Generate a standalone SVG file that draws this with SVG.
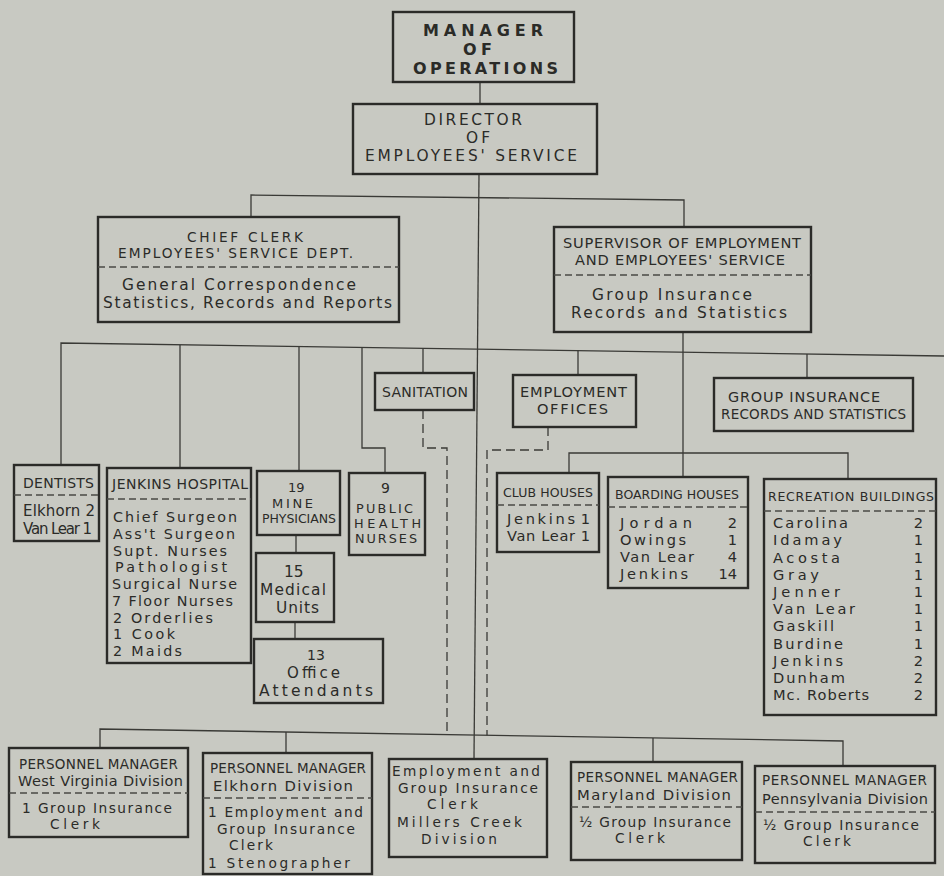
<svg xmlns="http://www.w3.org/2000/svg" width="944" height="876" viewBox="0 0 944 876">
<style>
.bg{fill:#c8c9c2}
.box{fill:#c8c9c2;stroke:#2b2b28;stroke-width:2.4}
.ln{fill:none;stroke:#3a3a36;stroke-width:1.3}
.dl{fill:none;stroke:#3a3a36;stroke-width:1.3;stroke-dasharray:9 5}
.dv{stroke:#4a4a45;stroke-width:1.3;stroke-dasharray:7 4}
text{font-family:"DejaVu Sans","Liberation Sans",Arial,sans-serif;fill:#2b2b28}
.b{font-weight:bold}
.e{text-anchor:end}
</style>
<rect class="bg" x="0" y="0" width="944" height="876"/>
<g id="connectors">
<path class="ln" d="M480,82 V104"/>
<path class="ln" d="M479,174 L474,759"/>
<path class="ln" d="M251,217 V195 L684,200 V227"/>
<path class="ln" d="M61,465 V343 L944,356"/>
<path class="ln" d="M180,345 V468"/>
<path class="ln" d="M299,346.5 V471"/>
<path class="ln" d="M362,347.4 V448 H385 V473"/>
<path class="ln" d="M423,348.3 V373"/>
<path class="ln" d="M578,350.6 V375"/>
<path class="ln" d="M807,354 V378"/>
<path class="ln" d="M683,332 V477"/>
<path class="ln" d="M569,473 V453 H848 V479"/>
<path class="ln" d="M296,535 V553"/>
<path class="ln" d="M295,622 V639"/>
<path class="dl" d="M423,410 V448 H447 V734.6"/>
<path class="dl" d="M548,427 V450 H487 V735.2"/>
<path class="ln" d="M100,748 V729 L843,741 V766"/>
<path class="ln" d="M286,732 V753"/>
<path class="ln" d="M653,738 V762"/>
</g>
<g id="manager">
<rect class="box" x="393" y="12" width="181" height="70"/>
<text class="b" font-size="16"><tspan x="423" y="36" textLength="120">MANAGER</tspan><tspan x="463" y="55" textLength="29">OF</tspan><tspan x="413" y="74" textLength="145">OPERATIONS</tspan></text>
</g>
<g id="director">
<rect class="box" x="353" y="104" width="244" height="70"/>
<text font-size="15.4"><tspan x="424" y="125" textLength="98">DIRECTOR</tspan><tspan x="466" y="143" textLength="24">OF</tspan><tspan x="365" y="161" textLength="212">EMPLOYEES' SERVICE</tspan></text>
</g>
<g id="chief-clerk">
<rect class="box" x="98" y="217" width="301" height="105"/>
<line class="dv" x1="98" y1="267" x2="399" y2="267"/>
<text font-size="13.7"><tspan x="187" y="242" textLength="116">CHIEF CLERK</tspan><tspan x="118" y="258" textLength="235">EMPLOYEES' SERVICE DEPT.</tspan></text>
<text font-size="15.4"><tspan x="122" y="290" textLength="234">General Correspondence</tspan><tspan x="103" y="308" textLength="289">Statistics, Records and Reports</tspan></text>
</g>
<g id="supervisor">
<rect class="box" x="554" y="227" width="257" height="105"/>
<line class="dv" x1="554" y1="275" x2="811" y2="275"/>
<text font-size="14.6"><tspan x="563" y="248" textLength="238">SUPERVISOR OF EMPLOYMENT</tspan><tspan x="575" y="265" textLength="210">AND EMPLOYEES' SERVICE</tspan></text>
<text font-size="15.4"><tspan x="592" y="300" textLength="160">Group Insurance</tspan><tspan x="571" y="318" textLength="216">Records and Statistics</tspan></text>
</g>
<g id="sanitation">
<rect class="box" x="375" y="373" width="99" height="37"/>
<text font-size="14" x="382" y="397" textLength="86">SANITATION</text>
</g>
<g id="employment-offices">
<rect class="box" x="513" y="375" width="123" height="52"/>
<text font-size="14.6"><tspan x="520" y="397" textLength="107">EMPLOYMENT</tspan><tspan x="537" y="414" textLength="71">OFFICES</tspan></text>
</g>
<g id="group-insurance">
<rect class="box" x="714" y="378" width="199" height="53"/>
<text font-size="14.4"><tspan x="728" y="402" textLength="152">GROUP INSURANCE</tspan><tspan x="721" y="419" textLength="185" font-size="13.5">RECORDS AND STATISTICS</tspan></text>
</g>
<g id="dentists">
<rect class="box" x="14" y="465" width="85" height="76"/>
<line class="dv" x1="14" y1="495" x2="99" y2="495"/>
<text font-size="14" x="23" y="488" textLength="71">DENTISTS</text>
<text font-size="15"><tspan x="23" y="516" textLength="72">Elkhorn 2</tspan><tspan x="23" y="534" textLength="69">Van Lear 1</tspan></text>
</g>
<g id="jenkins-hospital">
<rect class="box" x="107" y="468" width="144" height="195"/>
<line class="dv" x1="107" y1="499" x2="251" y2="499"/>
<text font-size="14" x="112" y="489" textLength="136">JENKINS HOSPITAL</text>
<text font-size="14.3"><tspan x="113" y="522" textLength="124">Chief Surgeon</tspan><tspan x="113" y="538.75" textLength="122">Ass't Surgeon</tspan><tspan x="113" y="555.5" textLength="114">Supt. Nurses</tspan><tspan x="115" y="572.25" textLength="112">Pathologist</tspan><tspan x="112" y="589" textLength="125">Surgical Nurse</tspan><tspan x="112" y="605.75" textLength="121">7 Floor Nurses</tspan><tspan x="113" y="622.5" textLength="100">2 Orderlies</tspan><tspan x="113" y="639.25" textLength="62">1 Cook</tspan><tspan x="113" y="656" textLength="69">2 Maids</tspan></text>
</g>
<g id="mine-physicians">
<rect class="box" x="257" y="471" width="83" height="64"/>
<text font-size="13"><tspan x="288" y="492">19</tspan><tspan x="272" y="508" textLength="41">MINE</tspan><tspan x="262" y="523" textLength="74" font-size="12.5">PHYSICIANS</tspan></text>
</g>
<g id="medical-units">
<rect class="box" x="256" y="553" width="78" height="69"/>
<text font-size="15.4"><tspan x="284" y="577">15</tspan><tspan x="260" y="595" textLength="66">Medical</tspan><tspan x="276" y="613" textLength="43">Units</tspan></text>
</g>
<g id="office-attendants">
<rect class="box" x="254" y="639" width="129" height="64"/>
<text font-size="15"><tspan x="307" y="660" font-size="14">13</tspan><tspan x="287" y="678" textLength="53">Office</tspan><tspan x="259" y="696" textLength="114" font-size="15.5">Attendants</tspan></text>
</g>
<g id="public-health-nurses">
<rect class="box" x="349" y="473" width="76" height="82"/>
<text font-size="12.8"><tspan x="381" y="493" font-size="14">9</tspan><tspan x="356" y="513" textLength="57">PUBLIC</tspan><tspan x="354" y="528" textLength="67">HEALTH</tspan><tspan x="355" y="543" textLength="62">NURSES</tspan></text>
</g>
<g id="club-houses">
<rect class="box" x="497" y="473" width="102" height="79"/>
<line class="dv" x1="497" y1="505" x2="599" y2="505"/>
<text font-size="12.5" x="503" y="497" textLength="90">CLUB HOUSES</text>
<text font-size="14.6"><tspan x="507" y="524" textLength="68">Jenkins</tspan><tspan x="507" y="541" textLength="68">Van Lear</tspan></text>
<text font-size="14.6" class="e"><tspan x="590" y="524">1</tspan><tspan x="590" y="541">1</tspan></text>
</g>
<g id="boarding-houses">
<rect class="box" x="608" y="477" width="140" height="111"/>
<line class="dv" x1="608" y1="507" x2="748" y2="507"/>
<text font-size="12.5" x="615" y="499" textLength="124">BOARDING HOUSES</text>
<text font-size="14.6"><tspan x="620" y="528" textLength="72">Jordan</tspan><tspan x="620" y="545" textLength="66">Owings</tspan><tspan x="620" y="562" textLength="74">Van Lear</tspan><tspan x="620" y="579" textLength="68">Jenkins</tspan></text>
<text font-size="14.6" class="e"><tspan x="737" y="528">2</tspan><tspan x="737" y="545">1</tspan><tspan x="737" y="562">4</tspan><tspan x="737" y="579">14</tspan></text>
</g>
<g id="recreation-buildings">
<rect class="box" x="764" y="479" width="172" height="236"/>
<line class="dv" x1="764" y1="511" x2="936" y2="511"/>
<text font-size="12.5" x="768" y="501" textLength="166">RECREATION BUILDINGS</text>
<text font-size="14.6"><tspan x="773" y="528" textLength="75">Carolina</tspan><tspan x="773" y="545" textLength="69">Idamay</tspan><tspan x="773" y="562.5" textLength="67">Acosta</tspan><tspan x="773" y="579.7" textLength="46">Gray</tspan><tspan x="773" y="597" textLength="67">Jenner</tspan><tspan x="773" y="614.2" textLength="82">Van Lear</tspan><tspan x="773" y="631.4" textLength="61">Gaskill</tspan><tspan x="773" y="648.6" textLength="70">Burdine</tspan><tspan x="773" y="665.8" textLength="70">Jenkins</tspan><tspan x="773" y="683" textLength="72">Dunham</tspan><tspan x="773" y="700.2" textLength="96">Mc. Roberts</tspan></text>
<text font-size="14.6" class="e"><tspan x="923" y="528">2</tspan><tspan x="923" y="545">1</tspan><tspan x="923" y="562.5">1</tspan><tspan x="923" y="579.7">1</tspan><tspan x="923" y="597">1</tspan><tspan x="923" y="614.2">1</tspan><tspan x="923" y="631.4">1</tspan><tspan x="923" y="648.6">1</tspan><tspan x="923" y="665.8">2</tspan><tspan x="923" y="683">2</tspan><tspan x="923" y="700.2">2</tspan></text>
</g>
<g id="pm-west-virginia">
<rect class="box" x="9" y="748" width="179" height="89"/>
<line class="dv" x1="9" y1="793" x2="188" y2="793"/>
<text font-size="13.5"><tspan x="19" y="769" textLength="159">PERSONNEL MANAGER</tspan><tspan x="18" y="786" textLength="165" font-size="14.5">West Virginia Division</tspan></text>
<text font-size="13.7"><tspan x="22" y="813" textLength="150">1 Group Insurance</tspan><tspan x="50" y="829" textLength="50">Clerk</tspan></text>
</g>
<g id="pm-elkhorn">
<rect class="box" x="203" y="753" width="169" height="121"/>
<line class="dv" x1="203" y1="798" x2="372" y2="798"/>
<text font-size="13.5"><tspan x="210" y="773" textLength="156">PERSONNEL MANAGER</tspan><tspan x="213" y="791" textLength="140" font-size="14.8">Elkhorn Division</tspan></text>
<text font-size="13.7"><tspan x="208" y="817" textLength="155">1 Employment and</tspan><tspan x="217" y="834" textLength="138">Group Insurance</tspan><tspan x="229" y="850" textLength="44">Clerk</tspan><tspan x="208" y="868" textLength="142">1 Stenographer</tspan></text>
</g>
<g id="millers-creek">
<rect class="box" x="389" y="759" width="158" height="98"/>
<text font-size="13.7"><tspan x="392" y="776" textLength="148">Employment and</tspan><tspan x="398" y="793" textLength="140">Group Insurance</tspan><tspan x="427" y="809" textLength="51">Clerk</tspan><tspan x="397" y="827" textLength="125">Millers Creek</tspan><tspan x="421" y="844" textLength="76">Division</tspan></text>
</g>
<g id="pm-maryland">
<rect class="box" x="571" y="762" width="171" height="98"/>
<line class="dv" x1="571" y1="807" x2="742" y2="807"/>
<text font-size="13.5"><tspan x="577" y="782" textLength="161">PERSONNEL MANAGER</tspan><tspan x="577" y="800" textLength="154" font-size="14.8">Maryland Division</tspan></text>
<text font-size="13.7"><tspan x="579" y="827" textLength="152">½ Group Insurance</tspan><tspan x="615" y="843" textLength="50">Clerk</tspan></text>
</g>
<g id="pm-pennsylvania">
<rect class="box" x="755" y="766" width="180" height="97"/>
<line class="dv" x1="755" y1="812" x2="935" y2="812"/>
<text font-size="13.5"><tspan x="762" y="785" textLength="165">PERSONNEL MANAGER</tspan><tspan x="762" y="804" textLength="166" font-size="14.5">Pennsylvania Division</tspan></text>
<text font-size="13.7"><tspan x="763" y="830" textLength="156">½ Group Insurance</tspan><tspan x="803" y="846" textLength="48">Clerk</tspan></text>
</g>
</svg>
